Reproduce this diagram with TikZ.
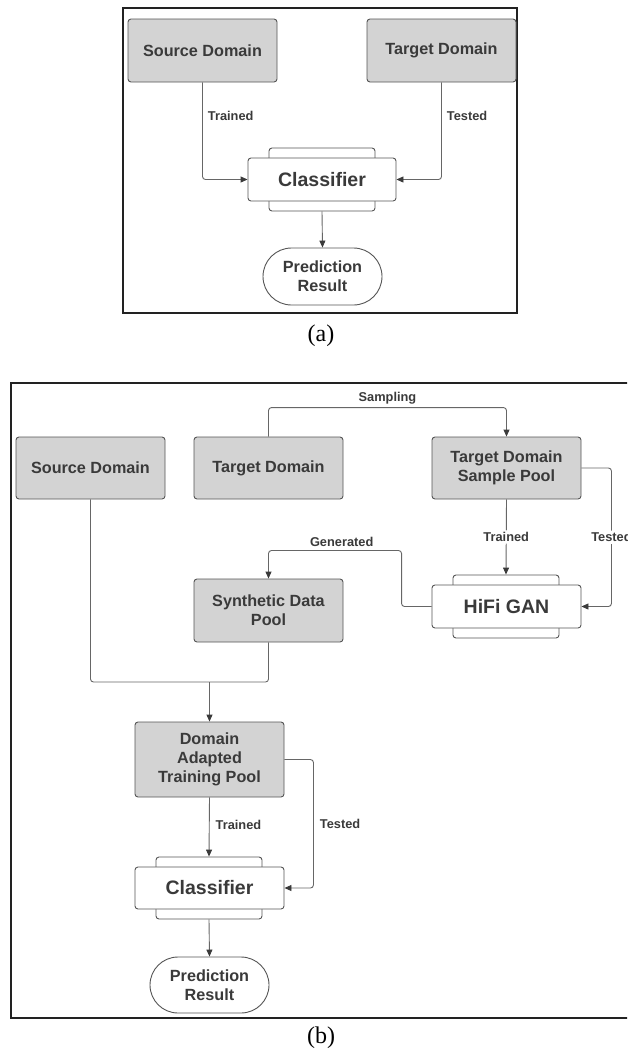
\documentclass[tikz,border=0pt]{standalone}
\usepackage{fontspec}
\setmainfont{Liberation Serif}
\newfontfamily\boxfont{Liberation Sans}
\usetikzlibrary{arrows.meta,shapes.misc}
\definecolor{boxfill}{HTML}{D3D3D3}
\definecolor{boxline}{HTML}{555555}
\definecolor{txtcol}{HTML}{3A3A3A}
\definecolor{conncol}{HTML}{666666}
\definecolor{framecol}{HTML}{222222}
\tikzset{
  graybox/.style={draw=boxline, fill=boxfill, rounded corners=3pt, line width=0.9pt, text=txtcol,
    font=\boxfont\bfseries\fontsize{16.2}{19}\selectfont, align=center, inner sep=0pt},
  whitebox/.style={draw=boxline, fill=white, rounded corners=3pt, line width=0.9pt, text=txtcol,
    font=\boxfont\bfseries\fontsize{19.5}{22}\selectfont, inner sep=0pt},
  backbox/.style={draw=boxline, fill=white, rounded corners=3pt, line width=0.9pt, inner sep=0pt},
  predbox/.style={draw=boxline, fill=white, rounded rectangle, line width=0.9pt, text=txtcol,
    font=\boxfont\bfseries\fontsize{16.2}{19.3}\selectfont, align=center, inner sep=0pt},
  plainconn/.style={draw=conncol, line width=0.9pt, rounded corners=3pt},
  conn/.style={plainconn, -{Triangle[length=7pt,width=6pt,color=txtcol]}},
  lbl/.style={text=txtcol, font=\boxfont\bfseries\fontsize{12.8}{15}\selectfont, inner sep=2pt},
  frame/.style={draw=framecol, line width=1.5pt},
  captxt/.style={font=\fontsize{24}{28}\selectfont, inner sep=0pt}
}
\begin{document}
\begin{tikzpicture}[x=1pt,y=-1pt]
\useasboundingbox (0,0) rectangle (627,1053);
\clip (0,0) rectangle (627,1053);
% frames
\draw[frame] (123,8) rectangle (517,313);
\draw[frame] (11,383) rectangle (660,1018);
\node[captxt] (capA) at (321,336) {(a)};
\node[captxt] (capB) at (321,1038) {(b)};
% ---------- (a) ----------
\node[graybox, minimum width=149pt, minimum height=63pt] (srcA) at (202.5,50.5) {Source Domain};
\node[graybox, minimum width=149pt, minimum height=63pt] (tgtA) at (441.5,50.5) {Target Domain};
\node[backbox, minimum width=106pt, minimum height=63pt] (clsAb) at (322,179.5) {};
\node[whitebox, minimum width=148pt, minimum height=43pt] (clsA) at (322,179.5) {Classifier};
\node[predbox, minimum width=119pt, minimum height=57pt] (predA) at (322.5,276.5) {Prediction\\Result};
\draw[conn] (srcA.south) |- node[lbl, pos=0.17, right, xshift=3pt]{Trained} (clsA.west);
\draw[conn] (tgtA.south) |- node[lbl, pos=0.17, right, xshift=3pt]{Tested} (clsA.east);
\draw[conn] (clsAb.south) -- (predA.north);
% ---------- (b) ----------
\node[graybox, minimum width=149pt, minimum height=62pt] (srcB) at (90.5,468) {Source Domain};
\node[graybox, minimum width=149pt, minimum height=62pt] (tgtB) at (268.5,468) {Target Domain};
\node[graybox, minimum width=149pt, minimum height=62pt] (tspB) at (506.5,468) {Target Domain\\Sample Pool};
\node[graybox, minimum width=149pt, minimum height=63pt] (synB) at (268.5,610.5) {Synthetic Data\\Pool};
\node[backbox, minimum width=106pt, minimum height=63pt] (hifiBb) at (506,606.5) {};
\node[whitebox, minimum width=149pt, minimum height=43pt] (hifiB) at (506.5,606.5) {HiFi GAN};
\node[graybox, minimum width=149pt, minimum height=75pt] (datpB) at (209.5,759.5) {Domain\\Adapted\\Training Pool};
\node[backbox, minimum width=106pt, minimum height=62pt] (clsBb) at (209,888) {};
\node[whitebox, minimum width=149pt, minimum height=42pt] (clsB) at (209.5,888) {Classifier};
\node[predbox, minimum width=119pt, minimum height=56pt] (predB) at (209.5,985) {Prediction\\Result};
\coordinate (mergeB) at (209.5,682);
% connectors (b)
\draw[conn] (tgtB.north) -- ++(0,-29) -| node[lbl, pos=0.25, above, yshift=1pt]{Sampling} (tspB.north);
\draw[conn] (tspB.south) -- node[lbl, fill=white]{Trained} (hifiBb.north);
\draw[conn] (tspB.east) -- ++(30,0) |- node[lbl, fill=white, pos=0.25]{Tested} (hifiB.east);
\draw[conn] (hifiB.west) -- ++(-30,0) -- ++(0,-56) -| node[lbl, pos=0.225, above, yshift=1pt]{Generated} (synB.north);
\draw[plainconn] (srcB.south) |- (mergeB);
\draw[plainconn] (synB.south) |- (mergeB);
\draw[conn] (mergeB) -- (datpB.north);
\draw[conn] (datpB.south) -- node[lbl, pos=0.47, right, xshift=4pt]{Trained} (clsBb.north);
\draw[conn] (datpB.east) -- ++(29,0) |- node[lbl, pos=0.25, right, xshift=4pt]{Tested} (clsB.east);
\draw[conn] (clsBb.south) -- (predB.north);
\end{tikzpicture}
\end{document}
